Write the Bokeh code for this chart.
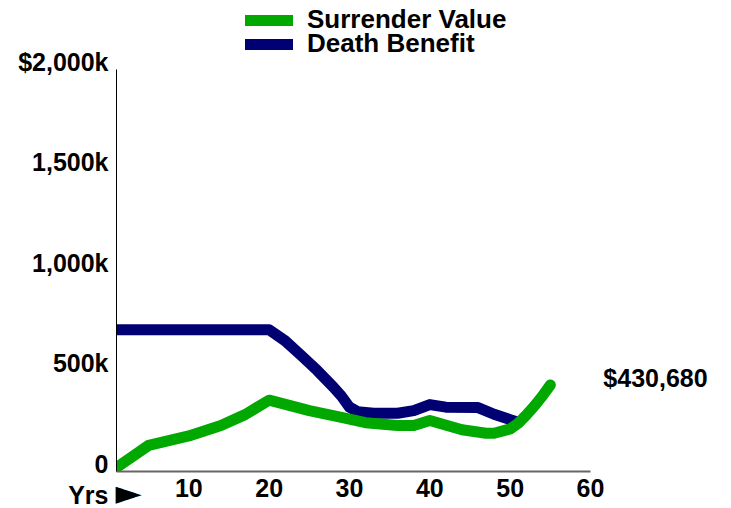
from bokeh.plotting import figure
from bokeh.models import (Range1d, FixedTicker, Legend, LegendItem, Label,
                          LinearAxis)
from bokeh.embed import file_html
from bokeh.resources import INLINE

# ---- data ----
sv_years = [1, 5, 10, 14, 17, 20, 25, 29, 32, 36, 38, 40, 44, 47, 48, 50, 51, 52, 53, 54, 55]
sv_values = [20000, 130000, 177000, 229000, 283000, 355000, 303000, 269000, 243000,
             229000, 229000, 254000, 208000, 190000, 190000, 212000, 240000, 280000,
             325000, 375000, 430680]

db_years = [1, 20, 22, 24, 26, 28, 29, 30, 31, 33, 36, 38, 40, 42, 46, 48, 50, 51]
db_values = [705000, 705000, 650000, 577000, 502000, 420000, 375000, 320000, 298000,
             290000, 290000, 303000, 333000, 320000, 318000, 285000, 258000, 245000]

x_ticks = [10, 20, 30, 40, 50, 60]
x_tick_labels = ["10", "20", "30", "40", "50", "60"]
x_title = "Yrs"
y_ticks = [0, 500000, 1000000, 1500000, 2000000]
y_tick_labels = ["0", "500k", "1,000k", "1,500k", "$2,000k"]

X_MIN, X_MAX = 1, 60
Y_MIN, Y_MAX = 0, 2000000

# ---- layout (pixels) ----
FRAME_W, FRAME_H = 615, 471
AXIS_W, AXIS_H = 474, 402
GREEN = "#00a800"
NAVY = "#000072"
FONT = "Liberation Sans"

x_end = X_MIN + (X_MAX - X_MIN) * FRAME_W / AXIS_W
y_end = Y_MAX * FRAME_H / AXIS_H
label_shift = 8 * Y_MAX / AXIS_H

p = figure(frame_width=FRAME_W, frame_height=FRAME_H, output_backend="svg",
           toolbar_location=None, x_range=Range1d(X_MIN, x_end),
           y_range=Range1d(Y_MIN, y_end), x_axis_location=None,
           y_axis_location=None, min_border_left=116, min_border_right=0,
           min_border_top=0, min_border_bottom=37)
p.outline_line_color = None
p.extra_y_ranges = {"ylab": Range1d(Y_MIN - label_shift, y_end - label_shift)}

def style_labels(ax):
    ax.major_tick_line_color = None
    ax.minor_tick_line_color = None
    ax.major_tick_out = 0
    ax.major_tick_in = 0
    ax.major_label_text_font = FONT
    ax.major_label_text_font_style = "bold"
    ax.major_label_text_font_size = "25px"
    ax.major_label_text_color = "#000000"

y_line = LinearAxis(bounds=(Y_MIN, Y_MAX), ticker=FixedTicker(ticks=[]),
                    axis_line_color="#000000", axis_line_width=1)
style_labels(y_line)
p.add_layout(y_line, "left")

y_lab = LinearAxis(y_range_name="ylab", ticker=FixedTicker(ticks=y_ticks),
                   major_label_overrides=dict(zip(y_ticks, y_tick_labels)),
                   axis_line_color=None, major_label_standoff=8)
style_labels(y_lab)
p.add_layout(y_lab, "left")

x_ax = LinearAxis(bounds=(X_MIN, X_MAX), ticker=FixedTicker(ticks=x_ticks),
                  major_label_overrides=dict(zip(x_ticks, x_tick_labels)),
                  axis_line_color="#666666", axis_line_width=2,
                  major_label_standoff=7)
style_labels(x_ax)
p.add_layout(x_ax, "below")

p.xgrid.visible = False
p.ygrid.visible = False

db = p.line(db_years, db_values, line_color=NAVY, line_width=11,
            line_cap="round", line_join="round")
sv = p.line(sv_years, sv_values, line_color=GREEN, line_width=11,
            line_cap="round", line_join="round")

legend_style = dict(orientation="vertical", label_text_font=FONT,
                    label_text_font_style="bold", label_text_font_size="26px",
                    label_text_color="#000000", glyph_width=48, glyph_height=24,
                    label_height=24, label_standoff=14, spacing=0, padding=0,
                    margin=0, border_line_color=None, background_fill_alpha=0)
p.add_layout(Legend(items=[LegendItem(label="Surrender Value", renderers=[sv])],
                    location=(129, 436), **legend_style))
p.add_layout(Legend(items=[LegendItem(label="Death Benefit", renderers=[db])],
                    location=(129, 412), **legend_style))

p.add_layout(Label(x=sv_years[-1], y=sv_values[-1], text=f"${sv_values[-1]:,}",
                   x_offset=53, y_offset=7, text_align="left",
                   text_baseline="alphabetic", text_font=FONT,
                   text_font_style="bold", text_font_size="25px",
                   text_color="#000000"))

# "Yrs" and the pointer under the start of the x axis (in the below panel)
p.add_layout(Label(x=X_MIN, y=Y_MIN, text=x_title, x_offset=-8, y_offset=-23,
                   text_align="right", text_baseline="alphabetic",
                   text_font=FONT, text_font_style="bold",
                   text_font_size="25px", text_color="#000000"), "below")
p.add_layout(Label(x=X_MIN, y=Y_MIN, text="\u25BA", x_offset=-1, y_offset=-20,
                   text_align="left", text_baseline="middle",
                   text_font="DejaVu Sans", text_font_style="bold",
                   text_font_size="34px", text_color="#000000"), "below")

open("out.html", "w").write(file_html(p, INLINE))
